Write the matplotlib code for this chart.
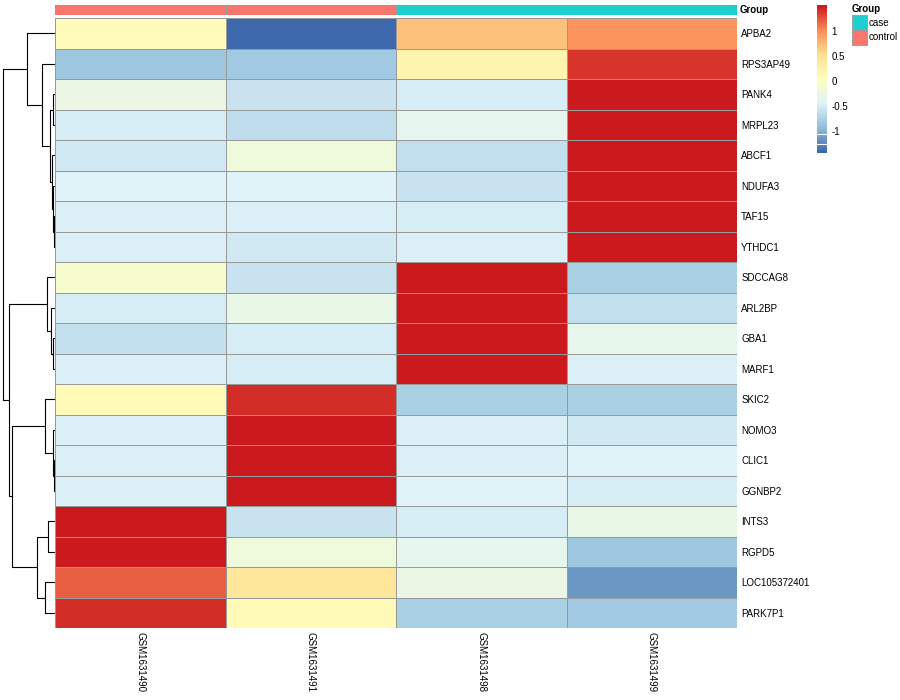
import matplotlib
matplotlib.use("Agg")
import matplotlib.pyplot as plt
import numpy as np
from matplotlib.colors import LinearSegmentedColormap, ListedColormap
from matplotlib.patches import Rectangle

plt.rcParams["font.family"] = ["Liberation Sans", "DejaVu Sans"]

genes = ["APBA2", "RPS3AP49", "PANK4", "MRPL23", "ABCF1", "NDUFA3", "TAF15",
         "YTHDC1", "SDCCAG8", "ARL2BP", "GBA1", "MARF1", "SKIC2", "NOMO3",
         "CLIC1", "GGNBP2", "INTS3", "RGPD5", "LOC105372401", "PARK7P1"]
samples = ["GSM1631490", "GSM1631491", "GSM1631498", "GSM1631499"]
groups = ["control", "control", "case", "case"]

# row-scaled expression, one row per gene, one column per sample
values = np.array([
    [0.08, -1.44, 0.70, 0.98],
    [-0.85, -0.83, 0.20, 1.40],
    [-0.26, -0.61, -0.52, 1.52],
    [-0.52, -0.67, -0.35, 1.50],
    [-0.53, -0.20, -0.62, 1.50],
    [-0.46, -0.45, -0.60, 1.50],
    [-0.48, -0.48, -0.52, 1.51],
    [-0.48, -0.55, -0.48, 1.51],
    [-0.08, -0.60, 1.51, -0.78],
    [-0.52, -0.30, 1.51, -0.63],
    [-0.62, -0.50, 1.51, -0.33],
    [-0.48, -0.52, 1.51, -0.47],
    [0.10, 1.42, -0.78, -0.76],
    [-0.47, 1.51, -0.47, -0.55],
    [-0.48, 1.51, -0.48, -0.45],
    [-0.47, 1.51, -0.45, -0.50],
    [1.51, -0.60, -0.52, -0.30],
    [1.50, -0.20, -0.35, -0.87],
    [1.22, 0.40, -0.27, -1.17],
    [1.42, 0.10, -0.78, -0.82],
])

# row dendrogram merges (child a, child b, height); ids >= 20 are earlier merges
row_merges = [
    (6, 7, 0.8), (5, 20, 1.2), (2, 3, 1.8), (4, 21, 2.8), (22, 23, 4.5),
    (1, 24, 12.2), (0, 25, 27.2), (10, 11, 1.2), (9, 27, 3.8), (8, 28, 7.8),
    (14, 15, 0.5), (13, 30, 1.2), (12, 31, 9.5), (16, 17, 6.2), (18, 19, 9.5),
    (33, 34, 17.8), (32, 35, 42.8), (29, 36, 45.5), (26, 37, 51.8),
]

group_colors = {"case": "#1FCFCF", "control": "#F8766D"}
palette = ["#3E68AC", "#91BFDB", "#E0F3F8", "#FFFFBF", "#FEE090", "#FC8D59", "#CB1A1E"]
cmap = ListedColormap(LinearSegmentedColormap.from_list("rdylbu", palette)(np.linspace(0, 1, 100)))
vmin, vmax = -1.44, 1.52
W, H = 900, 700
edge = "#999999"


def fx(px):
    return px / W


def fy(py):
    return 1 - py / H


fig = plt.figure(figsize=(9, 7), dpi=100)
n = len(genes)
m = len(samples)

# heatmap
ax = fig.add_axes([fx(55), fy(628), fx(682), 610 / H])
ax.pcolormesh(values, cmap=cmap, vmin=vmin, vmax=vmax, edgecolors=edge, linewidth=0.6)
ax.set_xlim(0, m)
ax.set_ylim(n, 0)
for s in ax.spines.values():
    s.set_visible(False)
ax.yaxis.tick_right()
ax.set_yticks(np.arange(n) + 0.5)
ax.set_yticklabels(genes, fontsize=7)
ax.set_xticks(np.arange(m) + 0.5)
ax.set_xticklabels(samples, fontsize=7, rotation=270)
ax.tick_params(length=0, pad=3)

# column annotation
ax_ann = fig.add_axes([fx(55), fy(15), fx(682), 10 / H])
codes = np.array([[0 if g == "control" else 1 for g in groups]])
ax_ann.pcolormesh(codes, cmap=ListedColormap([group_colors["control"], group_colors["case"]]),
                  vmin=0, vmax=1, edgecolors=edge, linewidth=0.6)
ax_ann.set_xlim(0, m)
ax_ann.axis("off")
ax_ann.text(1.004, 0.5, "Group", transform=ax_ann.transAxes, fontsize=7,
            fontweight="bold", va="center", ha="left")

# row dendrogram
ax_d = fig.add_axes([fx(2), fy(628), fx(52.5), 610 / H])
pos = {i: i + 0.5 for i in range(n)}
hgt = {i: 0.0 for i in range(n)}
for k, (a, b, h) in enumerate(row_merges):
    ax_d.plot([hgt[a], h, h, hgt[b]], [pos[a], pos[a], pos[b], pos[b]],
              color="black", lw=0.8, solid_capstyle="butt")
    pos[n + k] = (pos[a] + pos[b]) / 2
    hgt[n + k] = h
ax_d.set_xlim(52.5, 0)
ax_d.set_ylim(n, 0)
ax_d.axis("off")

# colour bar
ax_c = fig.add_axes([fx(817), fy(153), fx(10), 148 / H])
grad = np.linspace(vmin, vmax, 200).reshape(-1, 1)
ax_c.imshow(grad, cmap=cmap, vmin=vmin, vmax=vmax, aspect="auto", origin="lower",
            extent=[0, 1, vmin, vmax])
for yv in (-1.07, -1.27):
    ax_c.axhline(yv, color="white", lw=0.8)
ax_c.set_ylim(vmin, vmax)
ax_c.set_xticks([])
ax_c.yaxis.tick_right()
ax_c.set_yticks([-1, -0.5, 0, 0.5, 1])
ax_c.set_yticklabels(["-1", "-0.5", "0", "0.5", "1"], fontsize=7)
ax_c.tick_params(length=0, pad=3)
for s in ax_c.spines.values():
    s.set_visible(False)

# group legend
ax_l = fig.add_axes([0, 0, 1, 1])
ax_l.set_xlim(0, W)
ax_l.set_ylim(H, 0)
ax_l.axis("off")
ax_l.text(852, 9, "Group", fontsize=7, fontweight="bold", va="center", ha="left")
for i, g in enumerate(["case", "control"]):
    y0 = 15 + i * 15
    ax_l.add_patch(Rectangle((852, y0), 15, 15, facecolor=group_colors[g],
                             edgecolor=edge, lw=0.6))
    ax_l.text(869, y0 + 7.5, g, fontsize=7, va="center", ha="left")

fig.savefig("out.png", dpi=100)
